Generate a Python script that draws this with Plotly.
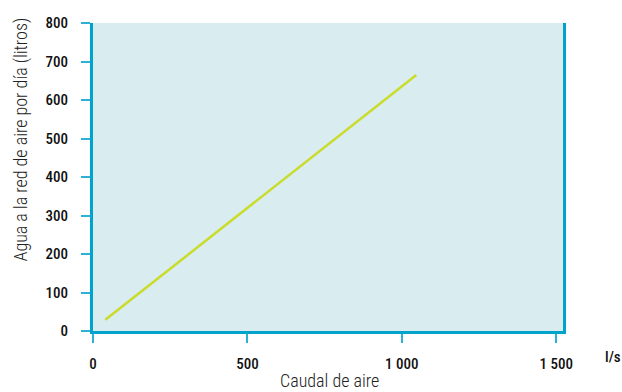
import plotly.graph_objects as go

caudal = [40, 1047]
agua = [29, 665]
x_ticks = [0, 500, 1000, 1500]
x_ticktext = ["0", "500", "1 000", "1 500"]
y_ticks = [0, 100, 200, 300, 400, 500, 600, 700, 800]

FONT = "Roboto Condensed, Liberation Sans Narrow, Arial Narrow, sans-serif"
AXIS = "#00a3cc"
TICK = "#2fb0d6"

W, H = 622, 392
L, R, T, B = 93, 59, 23, 61

fig = go.Figure()
fig.add_trace(go.Scatter(x=caudal, y=agua, mode="lines",
                         line=dict(color="#c9dc2a", width=2.5), hoverinfo="skip"))

pw = W - L - R
ph = H - T - B
def px(xp):
    return (xp - L) / pw
def py(yp):
    return (H - B - yp) / ph

tickfont = dict(size=15, family=FONT, weight=500, color="#111111")

fig.update_layout(
    width=W, height=H,
    margin=dict(l=L, r=R, t=T, b=B, autoexpand=False),
    plot_bgcolor="#d9ecf0", paper_bgcolor="white",
    showlegend=False,
    font=dict(family=FONT, size=14, color="#111111"),
    xaxis=dict(range=[0, 1522], tickvals=x_ticks, ticktext=x_ticktext,
               showgrid=False, zeroline=False, showline=True, linecolor=AXIS, linewidth=3,
               ticks="outside", ticklen=9, tickcolor=TICK, tickwidth=1.5,
               tickfont=tickfont, ticklabelstandoff=8, automargin=False),
    yaxis=dict(range=[0, 800], tickvals=y_ticks,
               showgrid=False, zeroline=False, showline=True, linecolor=AXIS, linewidth=3,
               mirror=True,
               ticks="outside", ticklen=9, tickcolor=TICK, tickwidth=1.5,
               tickfont=tickfont, ticklabelstandoff=10, automargin=False),
    annotations=[
        dict(text="Caudal de aire", xref="paper", yref="paper",
             x=px(329), y=py(380), xanchor="center", yanchor="middle",
             showarrow=False, font=dict(size=18, color="#222222", weight=300)),
        dict(text="l/s", xref="paper", yref="paper",
             x=px(613), y=py(357), xanchor="center", yanchor="middle",
             showarrow=False, font=tickfont),
        dict(text="Agua a la red de aire por día (litros)", xref="paper", yref="paper",
             x=px(20.5), y=py(140), xanchor="center", yanchor="middle", textangle=-90,
             showarrow=False, font=dict(size=18, color="#222222", weight=300)),
    ],
)

fig.write_html("out.html", config={"displayModeBar": False},
               post_script="document.body.style.margin='0';")
